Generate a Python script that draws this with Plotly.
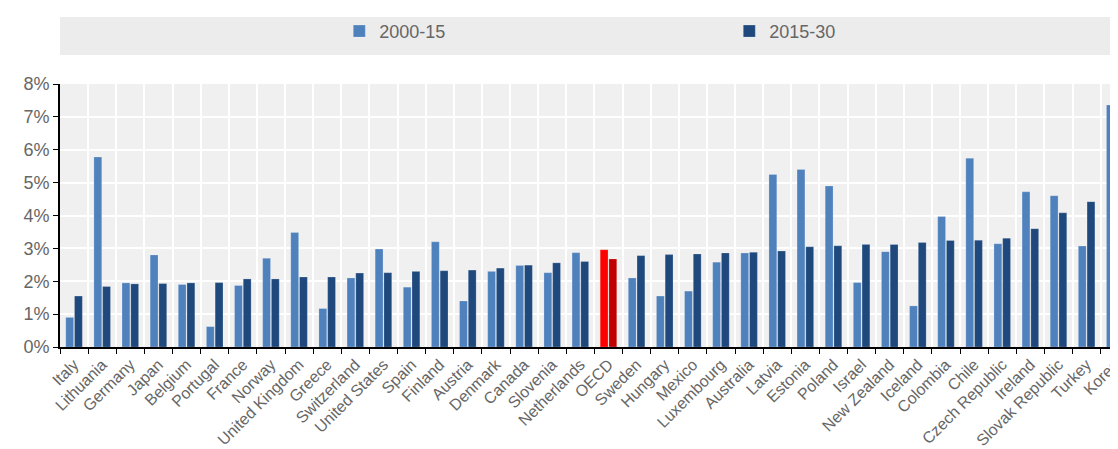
import plotly.graph_objects as go

countries = ["Italy", "Lithuania", "Germany", "Japan", "Belgium", "Portugal", "France", "Norway",
             "United Kingdom", "Greece", "Switzerland", "United States", "Spain", "Finland", "Austria",
             "Denmark", "Canada", "Slovenia", "Netherlands", "OECD", "Sweden", "Hungary", "Mexico",
             "Luxembourg", "Australia", "Latvia", "Estonia", "Poland", "Israel", "New Zealand", "Iceland",
             "Colombia", "Chile", "Czech Republic", "Ireland", "Slovak Republic", "Turkey", "Korea"]
p2000_15 = [0.90, 5.78, 1.95, 2.80, 1.90, 0.62, 1.87, 2.70, 3.48, 1.17, 2.10, 2.98, 1.82, 3.20, 1.40,
            2.30, 2.48, 2.26, 2.87, 2.96, 2.10, 1.55, 1.70, 2.58, 2.86, 5.25, 5.40, 4.90, 1.96, 2.90,
            1.25, 3.97, 5.74, 3.14, 4.72, 4.60, 3.07, 7.36]
p2015_30 = [1.55, 1.84, 1.92, 1.93, 1.95, 1.96, 2.07, 2.07, 2.13, 2.13, 2.25, 2.26, 2.30, 2.32, 2.34,
            2.40, 2.49, 2.56, 2.60, 2.68, 2.78, 2.81, 2.83, 2.86, 2.88, 2.92, 3.05, 3.08, 3.12, 3.12,
            3.18, 3.24, 3.25, 3.31, 3.60, 4.08, 4.42, 4.55]

c1 = ["#ff0000" if c == "OECD" else "#4f81bd" for c in countries]
c2 = ["#c00000" if c == "OECD" else "#1f497d" for c in countries]

fig = go.Figure()
fig.add_trace(go.Bar(x=countries, y=p2000_15, name="2000-15", marker_color=c1,
                     marker_line=dict(color="rgba(255,255,255,0.4)", width=0.5)))
fig.add_trace(go.Bar(x=countries, y=p2015_30, name="2015-30", marker_color=c2,
                     marker_line=dict(color="rgba(255,255,255,0.4)", width=0.5)))

# grey band behind the legend
fig.add_shape(type="rect", xref="paper", yref="paper", x0=0, x1=0.993, y0=1.11, y1=1.255,
              fillcolor="#ececec", line_width=0, layer="below")

fig.update_layout(
    width=1118, height=449,
    margin=dict(l=52, r=0, t=76, b=110, autoexpand=False),
    plot_bgcolor="#f0f0f0", paper_bgcolor="white",
    font=dict(family="Liberation Sans Narrow, Arial Narrow, Arial", size=17, color="#666666"),
    barmode="group", bargap=0.38, bargroupgap=0.1,
    showlegend=True,
    legend=dict(orientation="h", x=0.262, y=1.20, xanchor="left", yanchor="middle",
                bgcolor="rgba(0,0,0,0)", entrywidth=345, font=dict(size=18, color="#666666")),
)
fig.update_xaxes(type="category", tickson="boundaries", showgrid=True, gridcolor="white", gridwidth=2,
                 ticks="outside", ticklen=5, tickcolor="black", showline=True, linecolor="black",
                 linewidth=2, tickangle=-45, range=[-0.5, 37.4], tickfont=dict(size=16))
fig.update_yaxes(range=[0, 8], dtick=1, ticksuffix="%", showgrid=True, gridcolor="white", gridwidth=2,
                 ticks="outside", ticklen=5, tickcolor="black", showline=True, linecolor="black",
                 linewidth=2, zeroline=False, tickfont=dict(size=18))

fig.write_html("out.html")
